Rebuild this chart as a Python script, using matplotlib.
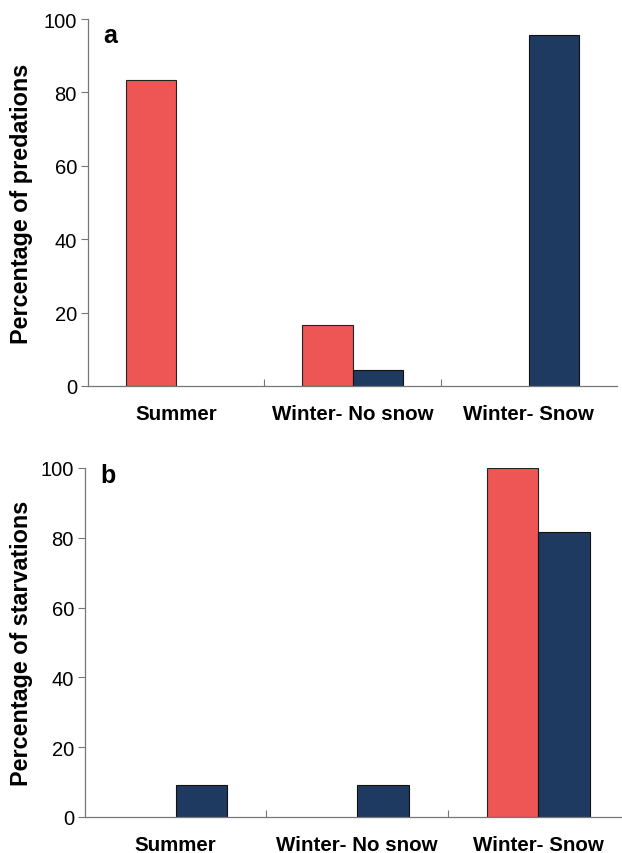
import numpy as np
import matplotlib.pyplot as plt

plt.rcParams['font.family'] = ['Liberation Sans', 'DejaVu Sans']

seasons = ['Summer', 'Winter- No snow', 'Winter- Snow']
pred_red = [83.3, 16.7, 0]
pred_blue = [0, 4.3, 95.7]
starv_red = [0, 0, 100]
starv_blue = [9.1, 9.1, 81.8]

red = '#EE5555'
navy = '#1F3A60'
spine_col = '#777777'

fig = plt.figure(figsize=(6.22, 8.54), dpi=100)
ax_a = fig.add_axes([88 / 622, (854 - 387) / 854, (617 - 88) / 622, (387 - 20) / 854])
ax_b = fig.add_axes([85 / 622, (854 - 818) / 854, (629 - 85) / 622, (818 - 469) / 854])


def draw(ax, r, b, ylabel, letter, letter_y, label_x):
    x = np.arange(len(seasons)) + 0.5
    w = 0.285
    for xi, v in zip(x, r):
        if v > 0:
            ax.bar(xi - w, v, w, align='edge', color=red, edgecolor='#222222', linewidth=0.8)
    for xi, v in zip(x, b):
        if v > 0:
            ax.bar(xi, v, w, align='edge', color=navy, edgecolor='#111111', linewidth=0.8)
    ax.set_xlim(0, 3)
    ax.set_ylim(0, 100)
    ax.set_yticks([0, 20, 40, 60, 80, 100])
    ax.tick_params(axis='y', labelsize=14.5, length=5, width=0.8, color=spine_col, pad=3)
    ax.set_xticks([1, 2])
    ax.set_xticklabels([])
    ax.set_xticks(x, minor=True)
    ax.set_xticklabels(seasons, minor=True, fontsize=14.8, fontweight='bold')
    ax.tick_params(axis='x', which='major', direction='in', length=5, width=0.8, color=spine_col)
    ax.tick_params(axis='x', which='minor', length=0, pad=13)
    for s in ['top', 'right']:
        ax.spines[s].set_visible(False)
    for s in ['left', 'bottom']:
        ax.spines[s].set_color(spine_col)
        ax.spines[s].set_linewidth(0.9)
    ax.set_ylabel(ylabel, fontsize=16.8, fontweight='bold', va='center')
    ax.yaxis.set_label_coords(label_x, 0.5)
    ax.text(0.028, letter_y, letter, transform=ax.transAxes, fontsize=18,
            fontweight='bold', va='baseline', ha='left')


draw(ax_a, pred_red, pred_blue, 'Percentage of predations', 'a', 0.937, (22 - 88) / 529)
draw(ax_b, starv_red, starv_blue, 'Percentage of starvations', 'b', 0.960, (22 - 85) / 544)

fig.savefig('out.png', dpi=100)
